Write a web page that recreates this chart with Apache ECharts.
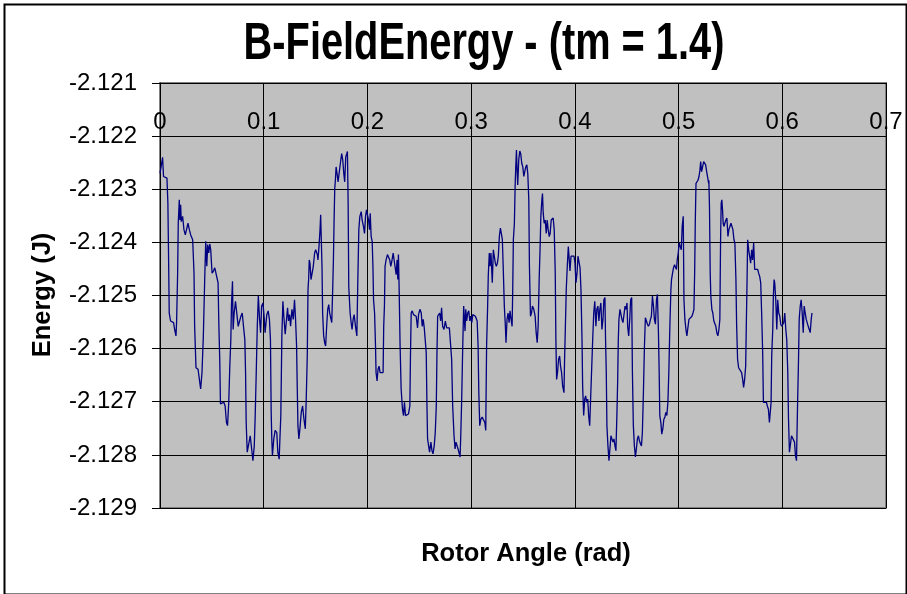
<!DOCTYPE html>
<html>
<head>
<meta charset="utf-8">
<script src="https://cdn.jsdelivr.net/npm/echarts@6/dist/echarts.min.js"></script>
<style>
html,body{margin:0;padding:0;background:#fff;}
#chart{width:907px;height:594px;}
</style>
</head>
<body>
<div id="chart"></div>
<script>
// Rotor angle (rad) vs B-field energy (J)
const seg1 = [[0,-2.1227],[0.0025,-2.1224],[0.0034,-2.12276],[0.0067,-2.12279],[0.0076,-2.12326],[0.0083,-2.12433],[0.0089,-2.12533],[0.0102,-2.12548],[0.0121,-2.12545],[0.0131,-2.12551],[0.0141,-2.12564],[0.0154,-2.12576],[0.0160,-2.12551],[0.0170,-2.12458],[0.0176,-2.12364],[0.0186,-2.1232],[0.0192,-2.12358],[0.0199,-2.12329],[0.0205,-2.12361],[0.0218,-2.12351],[0.0231,-2.12376],[0.0244,-2.12386],[0.0257,-2.12389],[0.0270,-2.12364],[0.0283,-2.12376],[0.0296,-2.12386],[0.0315,-2.12395],[0.0328,-2.12458],[0.0334,-2.12558],[0.0347,-2.12636],[0.0367,-2.12639],[0.0380,-2.12639],[0.0392,-2.12676],[0.0405,-2.12645],[0.0418,-2.12576],[0.0431,-2.1247],[0.0441,-2.12398],[0.0451,-2.12445],[0.0460,-2.12404],[0.0470,-2.1242],[0.0480,-2.12403],[0.0489,-2.12414],[0.0502,-2.12458],[0.0515,-2.12454],[0.0528,-2.12448],[0.0544,-2.12451],[0.0560,-2.12476],[0.0567,-2.12551],[0.0576,-2.1262],[0.0583,-2.12704],[0.0599,-2.12701],[0.0615,-2.12701],[0.0628,-2.12708],[0.0641,-2.12739],[0.0651,-2.12745],[0.0663,-2.12701],[0.0673,-2.12633],[0.0683,-2.12583],[0.0689,-2.1252],[0.0699,-2.12473],[0.0705,-2.12564],[0.0715,-2.12533],[0.0728,-2.12511],[0.0741,-2.12514],[0.0754,-2.12558],[0.0767,-2.12561],[0.0780,-2.12539],[0.0793,-2.12533],[0.0805,-2.12558],[0.0818,-2.12583],[0.0825,-2.12645],[0.0831,-2.12739],[0.0841,-2.12795],[0.0857,-2.12795],[0.0870,-2.12764],[0.0883,-2.12764],[0.0896,-2.12811],[0.0909,-2.12783],[0.0918,-2.12726],[0.0928,-2.12645],[0.0938,-2.12558],[0.0948,-2.12501],[0.0960,-2.12545],[0.0970,-2.1257],[0.0980,-2.1252],[0.0993,-2.12514],[0.1006,-2.12545]];
const seg2 = [[0.1013,-2.1257],[0.1030,-2.12536],[0.1043,-2.12529],[0.1055,-2.12545],[0.1065,-2.12583],[0.1072,-2.1272],[0.1078,-2.1277],[0.1084,-2.12801],[0.1097,-2.1277],[0.1110,-2.12754],[0.1126,-2.12758],[0.1136,-2.12795],[0.1149,-2.12808],[0.1155,-2.12776],[0.1165,-2.12726],[0.1175,-2.12576],[0.1185,-2.12511],[0.1194,-2.12539],[0.1207,-2.12573],[0.1220,-2.1257],[0.1230,-2.12523],[0.1239,-2.12548],[0.1249,-2.12536],[0.1259,-2.12558],[0.1272,-2.12526],[0.1285,-2.12545],[0.1297,-2.12508],[0.1307,-2.12545],[0.1317,-2.12595],[0.1323,-2.1267],[0.1330,-2.12745],[0.1339,-2.1277],[0.1349,-2.12751],[0.1362,-2.1272],[0.1375,-2.12708],[0.1388,-2.12733],[0.1401,-2.12751],[0.1410,-2.12695],[0.1420,-2.12614],[0.1427,-2.12489],[0.1433,-2.1247],[0.1439,-2.12433],[0.1446,-2.12439],[0.1456,-2.1247],[0.1465,-2.12473],[0.1478,-2.12445],[0.1491,-2.1242],[0.1501,-2.12414],[0.1510,-2.12411],[0.1517,-2.12423],[0.1523,-2.12433],[0.1533,-2.12408],[0.1543,-2.12376],[0.1549,-2.12348],[0.1556,-2.12345],[0.1562,-2.12445],[0.1568,-2.12533],[0.1578,-2.12576],[0.1588,-2.12589],[0.1597,-2.12595],[0.1607,-2.12558],[0.1617,-2.12526],[0.1627,-2.12517],[0.1636,-2.12533],[0.1646,-2.12542],[0.1656,-2.12551],[0.1665,-2.12489],[0.1672,-2.12433],[0.1678,-2.12364],[0.1685,-2.12298],[0.1691,-2.12283],[0.1698,-2.12258],[0.1707,-2.1227],[0.1717,-2.12286],[0.1730,-2.12283],[0.1743,-2.12245],[0.1752,-2.12233],[0.1762,-2.12245],[0.1772,-2.1227],[0.1781,-2.12286],[0.1791,-2.12239],[0.1801,-2.12233],[0.1807,-2.12229],[0.1814,-2.12326],[0.1820,-2.12483],[0.1833,-2.12533],[0.1843,-2.12551],[0.1852,-2.12564],[0.1862,-2.12545],[0.1872,-2.12536],[0.1885,-2.12558],[0.1898,-2.12576],[0.1907,-2.12476],[0.1917,-2.12376],[0.1927,-2.12351],[0.1940,-2.12342],[0.1949,-2.12358],[0.1962,-2.1237],[0.1972,-2.12383],[0.1982,-2.12351],[0.1991,-2.12339],[0.2001,-2.12336],[0.2011,-2.12358],[0.2020,-2.12376],[0.2027,-2.12345],[0.2036,-2.12389],[0.2046,-2.12398],[0.2053,-2.12445],[0.2059,-2.12508],[0.2069,-2.12533],[0.2078,-2.12595]];
const seg3 = [[0.2083,-2.12645],[0.2093,-2.12661],[0.2102,-2.12639],[0.2112,-2.12633],[0.2122,-2.12645],[0.2138,-2.12648],[0.2151,-2.12645],[0.2157,-2.12558],[0.2164,-2.1252],[0.2170,-2.12445],[0.2180,-2.12433],[0.2193,-2.12423],[0.2206,-2.12426],[0.2215,-2.12433],[0.2225,-2.12445],[0.2235,-2.12436],[0.2248,-2.1242],[0.2257,-2.12417],[0.2267,-2.12423],[0.2277,-2.12461],[0.2286,-2.12433],[0.2293,-2.1247],[0.2299,-2.12423],[0.2306,-2.12489],[0.2315,-2.12595],[0.2325,-2.12676],[0.2338,-2.12714],[0.2348,-2.12726],[0.2357,-2.12701],[0.2367,-2.12726],[0.2380,-2.12723],[0.2396,-2.12723],[0.2409,-2.12708],[0.2415,-2.12614],[0.2422,-2.12533],[0.2432,-2.12529],[0.2444,-2.12536],[0.2457,-2.12533],[0.2470,-2.12539],[0.2483,-2.12561],[0.2493,-2.12536],[0.2506,-2.12526],[0.2519,-2.12533],[0.2528,-2.12558],[0.2538,-2.12545],[0.2548,-2.12561],[0.2557,-2.12583],[0.2567,-2.12608],[0.2574,-2.12708],[0.2580,-2.1277],[0.2590,-2.12783],[0.2599,-2.12795],[0.2612,-2.12776],[0.2622,-2.12792],[0.2632,-2.12798],[0.2644,-2.12783],[0.2654,-2.12758],[0.2664,-2.12708],[0.2670,-2.12614],[0.2677,-2.12539],[0.2686,-2.12542],[0.2696,-2.12533],[0.2706,-2.12548],[0.2715,-2.12523],[0.2725,-2.12558],[0.2738,-2.12564],[0.2751,-2.12548],[0.2764,-2.12561],[0.2777,-2.12564],[0.2790,-2.12561],[0.2803,-2.12564],[0.2812,-2.1262],[0.2822,-2.12708],[0.2835,-2.12764],[0.2845,-2.12789],[0.2854,-2.12776],[0.2864,-2.12773],[0.2874,-2.12789],[0.2886,-2.12798],[0.2893,-2.12804],[0.2899,-2.1277],[0.2909,-2.12695],[0.2919,-2.12595],[0.2928,-2.1252],[0.2935,-2.12517],[0.2941,-2.12567],[0.2948,-2.12526],[0.2957,-2.12548],[0.2967,-2.12533],[0.2977,-2.12529],[0.2987,-2.12548],[0.2996,-2.12539],[0.3006,-2.12551],[0.3016,-2.12536],[0.3028,-2.12533],[0.3041,-2.12539],[0.3058,-2.12548],[0.3067,-2.12595],[0.3074,-2.12683],[0.3083,-2.12745],[0.3093,-2.12733],[0.3106,-2.12729],[0.3119,-2.12726],[0.3132,-2.12739],[0.3141,-2.12754]];
const seg4 = [[0.3143,-2.12708],[0.3149,-2.12595],[0.3159,-2.1252],[0.3165,-2.12464],[0.3175,-2.1242],[0.3182,-2.12445],[0.3191,-2.1242],[0.3204,-2.12476],[0.3214,-2.12414],[0.3224,-2.12411],[0.3233,-2.12439],[0.3243,-2.12445],[0.3253,-2.12439],[0.3262,-2.12426],[0.3272,-2.12389],[0.3282,-2.12373],[0.3291,-2.12383],[0.3301,-2.12395],[0.3311,-2.12458],[0.3320,-2.1252],[0.3330,-2.12558],[0.3336,-2.12589],[0.3346,-2.12545],[0.3356,-2.12533],[0.3366,-2.12551],[0.3375,-2.12529],[0.3385,-2.12545],[0.3395,-2.12558],[0.3401,-2.12489],[0.3407,-2.12395],[0.3417,-2.12364],[0.3424,-2.12295],[0.3430,-2.12258],[0.3437,-2.12226],[0.3443,-2.12264],[0.3449,-2.12292],[0.3459,-2.12245],[0.3469,-2.12228],[0.3478,-2.12233],[0.3488,-2.12251],[0.3498,-2.12258],[0.3508,-2.12276],[0.3517,-2.12267],[0.3527,-2.12258],[0.3537,-2.12254],[0.3546,-2.1227],[0.3556,-2.1232],[0.3562,-2.12445],[0.3572,-2.12539],[0.3582,-2.12533],[0.3591,-2.1252],[0.3604,-2.12526],[0.3617,-2.12539],[0.3627,-2.1257],[0.3637,-2.12589],[0.3646,-2.12558],[0.3656,-2.1247],[0.3666,-2.12401],[0.3672,-2.12351],[0.3682,-2.1232],[0.3688,-2.12308],[0.3695,-2.12345],[0.3704,-2.12364],[0.3714,-2.12358],[0.3724,-2.12383],[0.3733,-2.12358],[0.3743,-2.12376],[0.3753,-2.12389],[0.3762,-2.12383],[0.3772,-2.12358],[0.3782,-2.12358],[0.3791,-2.12354],[0.3801,-2.12376],[0.3811,-2.12458],[0.3817,-2.12583],[0.3824,-2.12658],[0.3833,-2.12645],[0.3843,-2.1262],[0.3853,-2.12614],[0.3862,-2.12633],[0.3872,-2.12645],[0.3882,-2.1267],[0.3895,-2.12683],[0.3901,-2.1262],[0.3908,-2.12564],[0.3917,-2.12489],[0.3927,-2.12445],[0.3937,-2.12408],[0.3946,-2.12433],[0.3953,-2.12454],[0.3963,-2.12426],[0.3972,-2.12429],[0.3982,-2.12429],[0.3992,-2.12426],[0.4001,-2.12439],[0.4011,-2.12476],[0.4021,-2.12458],[0.4030,-2.12426],[0.4040,-2.12423],[0.4050,-2.12448],[0.4059,-2.12489],[0.4069,-2.12583],[0.4075,-2.1267],[0.4085,-2.12726],[0.4095,-2.12695],[0.4104,-2.12689],[0.4114,-2.12701],[0.4124,-2.12695],[0.4133,-2.12726],[0.4143,-2.12745],[0.4153,-2.12689],[0.4163,-2.12633],[0.4172,-2.12583],[0.4182,-2.12533],[0.4192,-2.12511]];
const seg5 = [[0.4203,-2.12558],[0.4212,-2.12526],[0.4222,-2.1252],[0.4232,-2.12548],[0.4241,-2.12526],[0.4251,-2.12514],[0.4261,-2.12564],[0.4271,-2.12545],[0.4280,-2.12508],[0.4290,-2.12504],[0.4296,-2.12583],[0.4303,-2.12645],[0.4309,-2.12745],[0.4319,-2.12783],[0.4329,-2.12811],[0.4338,-2.12789],[0.4348,-2.12764],[0.4358,-2.12761],[0.4367,-2.12776],[0.4377,-2.1277],[0.4387,-2.12783],[0.4396,-2.12792],[0.4406,-2.1272],[0.4413,-2.12658],[0.4419,-2.12583],[0.4425,-2.12545],[0.4435,-2.12526],[0.4445,-2.12536],[0.4454,-2.12545],[0.4464,-2.12551],[0.4474,-2.12551],[0.4484,-2.1252],[0.4493,-2.12526],[0.4503,-2.12514],[0.4509,-2.12558],[0.4519,-2.12576],[0.4529,-2.12545],[0.4538,-2.12508],[0.4548,-2.12504],[0.4555,-2.12645],[0.4564,-2.12745],[0.4574,-2.12783],[0.4584,-2.12804],[0.4593,-2.12789],[0.4603,-2.1277],[0.4613,-2.12764],[0.4622,-2.12773],[0.4632,-2.12779],[0.4642,-2.12783],[0.4651,-2.12758],[0.4661,-2.12683],[0.4671,-2.12595],[0.4680,-2.12542],[0.4690,-2.12545],[0.4700,-2.12554],[0.4709,-2.12558],[0.4719,-2.12554],[0.4729,-2.12545],[0.4738,-2.12539],[0.4748,-2.12501],[0.4758,-2.1252],[0.4767,-2.12545],[0.4777,-2.12554],[0.4787,-2.12508],[0.4796,-2.12498],[0.4806,-2.1257],[0.4813,-2.12645],[0.4819,-2.12726],[0.4829,-2.12739],[0.4838,-2.12761],[0.4848,-2.12751],[0.4858,-2.12733],[0.4868,-2.12729],[0.4877,-2.1272],[0.4887,-2.12726],[0.4897,-2.12701],[0.4906,-2.12645],[0.4916,-2.12558],[0.4926,-2.12489],[0.4932,-2.1247],[0.4942,-2.12458],[0.4951,-2.12448],[0.4961,-2.12442],[0.4971,-2.12445],[0.4980,-2.12451],[0.4987,-2.12433],[0.4997,-2.1242],[0.5006,-2.12401],[0.5016,-2.12408],[0.5026,-2.12414],[0.5035,-2.1237],[0.5045,-2.12351],[0.5052,-2.12508],[0.5061,-2.12545],[0.5071,-2.12564],[0.5080,-2.12576],[0.5090,-2.12579],[0.5100,-2.12545],[0.5109,-2.12548],[0.5119,-2.12545],[0.5129,-2.12539],[0.5139,-2.12533],[0.5148,-2.12526],[0.5155,-2.12458],[0.5161,-2.12364],[0.5168,-2.12289],[0.5177,-2.12286],[0.5187,-2.12283],[0.5197,-2.12276],[0.5206,-2.12264],[0.5213,-2.12248],[0.5222,-2.12267],[0.5232,-2.1227],[0.5242,-2.12248],[0.5251,-2.12245],[0.5261,-2.12254],[0.5271,-2.12267],[0.5281,-2.1227],[0.5290,-2.12289]];
const seg6 = [[0.5292,-2.12283],[0.5298,-2.12333],[0.5305,-2.12458],[0.5311,-2.12501],[0.5321,-2.12526],[0.5330,-2.12533],[0.5340,-2.12548],[0.5350,-2.12545],[0.5359,-2.12558],[0.5369,-2.1257],[0.5379,-2.12576],[0.5389,-2.12564],[0.5398,-2.12545],[0.5405,-2.12395],[0.5411,-2.12326],[0.5417,-2.1232],[0.5424,-2.12339],[0.5430,-2.12364],[0.5437,-2.1237],[0.5447,-2.1237],[0.5456,-2.12358],[0.5466,-2.12354],[0.5476,-2.12389],[0.5485,-2.12376],[0.5495,-2.1237],[0.5505,-2.12364],[0.5514,-2.12367],[0.5524,-2.12376],[0.5534,-2.12395],[0.5543,-2.12401],[0.5553,-2.1247],[0.5560,-2.12558],[0.5569,-2.1262],[0.5579,-2.12636],[0.5589,-2.12639],[0.5598,-2.12639],[0.5608,-2.12645],[0.5618,-2.12658],[0.5627,-2.12673],[0.5637,-2.12658],[0.5647,-2.12633],[0.5653,-2.12558],[0.5660,-2.12476],[0.5666,-2.12395],[0.5676,-2.12414],[0.5685,-2.12426],[0.5695,-2.12439],[0.5705,-2.12414],[0.5714,-2.12433],[0.5724,-2.12401],[0.5734,-2.12451],[0.5743,-2.12454],[0.5753,-2.12454],[0.5763,-2.12451],[0.5772,-2.12458],[0.5782,-2.12464],[0.5792,-2.12476],[0.5801,-2.12533],[0.5811,-2.12608],[0.5818,-2.12701],[0.5827,-2.12701],[0.5837,-2.12704],[0.5847,-2.12701],[0.5856,-2.12708],[0.5866,-2.12714],[0.5876,-2.12739],[0.5885,-2.12742],[0.5892,-2.12701],[0.5898,-2.12614],[0.5908,-2.12564],[0.5914,-2.12501],[0.5921,-2.1247],[0.5927,-2.12476],[0.5937,-2.12508],[0.5947,-2.12564],[0.5956,-2.12508],[0.5966,-2.12533],[0.5976,-2.12539],[0.5985,-2.12554],[0.5995,-2.12558],[0.6005,-2.12558],[0.6014,-2.12551],[0.6024,-2.12533],[0.6034,-2.12564],[0.6043,-2.12583],[0.6053,-2.12645],[0.6060,-2.12733],[0.6069,-2.12795],[0.6079,-2.12798],[0.6089,-2.12764],[0.6098,-2.12764],[0.6108,-2.12767],[0.6118,-2.12776],[0.6127,-2.12801],[0.6137,-2.12811],[0.6147,-2.12708],[0.6156,-2.12626],[0.6163,-2.12545],[0.6173,-2.1252],[0.6182,-2.12508],[0.6192,-2.12533],[0.6202,-2.1257],[0.6211,-2.1252],[0.6221,-2.12533],[0.6231,-2.12545],[0.6240,-2.12548],[0.6250,-2.12558],[0.6260,-2.12564],[0.6269,-2.1257],[0.6279,-2.12545],[0.6286,-2.12533]];

const chartTitle = 'B-FieldEnergy - (tm = 1.4)';
const xTitle = 'Rotor Angle (rad)';
const yTitle = 'Energy (J)';
const xTicks = {min: 0, max: 0.7, step: 0.1};
const yTicks = {min: -2.129, max: -2.121, step: 0.001};

const seriesData = seg1.concat(seg2, seg3, seg4, seg5, seg6);
const FONT = '"Liberation Sans", Arial, Helvetica, sans-serif';

const chart = echarts.init(document.getElementById('chart'), null, {renderer: 'canvas'});
chart.setOption({
  animation: false,
  backgroundColor: '#ffffff',
  grid: {
    left: 160, top: 83, right: 21, bottom: 86,
    show: true, backgroundColor: '#c0c0c0', borderColor: '#808080', borderWidth: 2
  },
  xAxis: {
    type: 'value', position: 'top',
    min: xTicks.min, max: xTicks.max, interval: xTicks.step,
    axisLine: {show: true, onZero: false, lineStyle: {color: '#000', width: 1}},
    axisTick: {show: false},
    axisLabel: {
      inside: true, margin: 27, fontSize: 24, color: '#000', fontFamily: FONT,
      showMinLabel: true, showMaxLabel: true,
      formatter: v => (Math.abs(v) < 1e-9 ? '0' : (+v.toFixed(1)).toString())
    },
    splitLine: {show: true, lineStyle: {color: '#000', width: 1}}
  },
  yAxis: {
    type: 'value',
    min: yTicks.min, max: yTicks.max, interval: yTicks.step,
    axisLine: {show: true, lineStyle: {color: '#000', width: 1}},
    axisTick: {show: true, length: 8, lineStyle: {color: '#000'}},
    axisLabel: {
      margin: 23, fontSize: 24, color: '#000', fontFamily: FONT,
      showMinLabel: true, showMaxLabel: true,
      formatter: v => v.toFixed(3)
    },
    splitLine: {show: true, lineStyle: {color: '#000', width: 1}}
  },
  series: [{
    type: 'line', data: seriesData, showSymbol: false, symbol: 'none',
    lineStyle: {color: '#000080', width: 1.3}, itemStyle: {color: '#000080'}
  }],
  graphic: [
    {type: 'rect', left: 2, top: 2, silent: true, z: 100,
     shape: {width: 902, height: 590}, style: {fill: null, stroke: '#000', lineWidth: 2}},
    {type: 'text', x: 484, y: 45, scaleX: 0.78, z: 100,
     style: {text: chartTitle, font: 'bold 51px ' + FONT, fill: '#000', align: 'center', verticalAlign: 'middle'}},
    {type: 'text', x: 526, y: 554, z: 100,
     style: {text: xTitle, font: 'bold 25.5px ' + FONT, fill: '#000', align: 'center', verticalAlign: 'middle'}},
    {type: 'text', x: 42.5, y: 295, rotation: Math.PI / 2, z: 100,
     style: {text: yTitle, font: 'bold 25.5px ' + FONT, fill: '#000', align: 'center', verticalAlign: 'middle'}}
  ]
});
</script>
</body>
</html>
